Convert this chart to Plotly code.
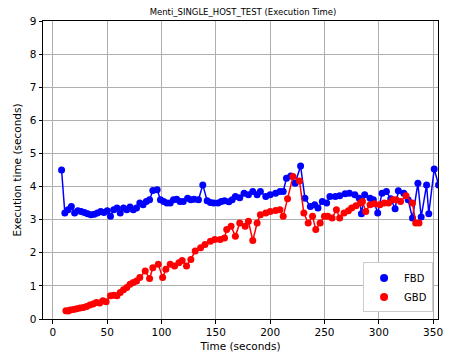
import plotly.graph_objects as go

fbd_t = [8, 11, 14, 17, 20, 23, 26, 29, 32, 35, 38, 41, 44, 47, 50, 53, 56, 59, 62, 65,
         68, 71, 74, 77, 80, 83, 86, 89, 92, 96, 99, 102, 105, 108, 111, 114, 117, 120, 124, 127,
         130, 134, 138, 142, 145, 148, 152, 155, 158, 162, 165, 168, 172, 176, 180, 184, 188, 191, 196, 200,
         205, 209, 212, 215, 219, 223, 228, 232, 237, 241, 244, 248, 252, 255, 260, 264, 269, 273, 278, 282,
         284, 287, 292, 295, 299, 303, 307, 311, 315, 318, 323, 327, 331, 336, 339, 344, 346, 351, 355]
fbd_v = [4.5, 3.2, 3.3, 3.4, 3.2, 3.27, 3.25, 3.22, 3.18, 3.15, 3.16, 3.2, 3.25, 3.22, 3.27, 3.1, 3.3, 3.35, 3.2, 3.35,
         3.3, 3.38, 3.3, 3.35, 3.5, 3.45, 3.55, 3.6, 3.88, 3.9, 3.6, 3.55, 3.5, 3.5, 3.6, 3.62, 3.55, 3.55, 3.65, 3.6,
         3.62, 3.6, 4.05, 3.57, 3.52, 3.5, 3.5, 3.55, 3.57, 3.54, 3.6, 3.7, 3.66, 3.8, 3.75, 3.85, 3.75, 3.85, 3.7, 3.75,
         3.8, 3.85, 3.85, 4.25, 4.32, 4.1, 4.62, 3.65, 3.4, 3.45, 3.35, 3.55, 3.5, 3.7, 3.7, 3.72, 3.78, 3.8, 3.75, 3.65,
         3.18, 3.75, 3.65, 3.6, 3.2, 3.8, 3.85, 3.63, 3.33, 3.87, 3.8, 3.6, 3.05, 4.1, 3.08, 4.05, 3.18, 4.53, 4.05]

gbd_t = [12, 14, 16, 19, 22, 25, 28, 31, 34, 37, 40, 43, 46, 49, 53, 56, 59, 62, 65, 68,
         71, 74, 77, 80, 85, 89, 92, 97, 101, 104, 108, 112, 116, 119, 123, 127, 131, 136, 140, 145,
         149, 154, 158, 160, 164, 168, 172, 177, 180, 184, 188, 191, 196, 200, 205, 209, 212, 216, 221, 227,
         231, 235, 239, 242, 246, 250, 253, 257, 261, 264, 268, 272, 275, 279, 283, 285, 288, 292, 296, 301,
         305, 309, 313, 316, 320, 325, 331, 334, 337]
gbd_v = [0.25, 0.24, 0.27, 0.29, 0.31, 0.33, 0.35, 0.38, 0.42, 0.45, 0.5, 0.48, 0.55, 0.52, 0.7, 0.72, 0.7, 0.8, 0.88, 0.95,
         1.05, 1.1, 1.15, 1.25, 1.45, 1.22, 1.55, 1.65, 1.25, 1.5, 1.65, 1.6, 1.7, 1.77, 1.6, 1.8, 2.05, 2.15, 2.25, 2.35,
         2.4, 2.4, 2.45, 2.7, 2.8, 2.5, 2.9, 2.8, 2.95, 2.37, 2.9, 3.15, 3.2, 3.25, 3.28, 3.3, 3.1, 3.63, 4.3, 4.17,
         3.2, 2.9, 3.1, 2.7, 2.9, 3.1, 3.1, 3.05, 3.3, 3.05, 3.2, 3.27, 3.35, 3.42, 3.5, 3.55, 3.25, 3.45, 3.48, 3.45,
         3.5, 3.5, 3.6, 3.6, 3.55, 3.72, 3.5, 2.9, 2.9]

x_ticks = [0, 50, 100, 150, 200, 250, 300, 350]
y_ticks = [0, 1, 2, 3, 4, 5, 6, 7, 8, 9]

FONT = "DejaVu Sans"

fig = go.Figure()
fig.add_trace(go.Scatter(x=fbd_t, y=fbd_v, mode="lines+markers", name="FBD",
                         line=dict(color="blue", width=1.5),
                         marker=dict(color="blue", size=7), showlegend=False))
fig.add_trace(go.Scatter(x=gbd_t, y=gbd_v, mode="lines+markers", name="GBD",
                         line=dict(color="red", width=1.5),
                         marker=dict(color="red", size=7), showlegend=False))
fig.add_trace(go.Scatter(x=[None], y=[None], mode="markers", name="FBD",
                         marker=dict(color="blue", size=8)))
fig.add_trace(go.Scatter(x=[None], y=[None], mode="markers", name="GBD",
                         marker=dict(color="red", size=8)))

axis_common = dict(showgrid=True, gridcolor="#b0b0b0", gridwidth=1,
                   showline=True, linecolor="black", linewidth=1, mirror=True,
                   ticks="outside", ticklen=3.5, tickcolor="black", tickwidth=1,
                   zeroline=False, tickfont=dict(family=FONT, size=10.5, color="black"))

fig.update_layout(
    width=450, height=358,
    margin=dict(l=43, r=7, t=21, b=39),
    paper_bgcolor="white", plot_bgcolor="white",
    font=dict(family=FONT, color="black"),
    title=dict(text="Menti_SINGLE_HOST_TEST (Execution Time)",
               font=dict(family=FONT, size=8.5, color="black"),
               x=0.54, xanchor="center", y=0.966, yanchor="middle"),
    xaxis=dict(range=[-9.1, 354.5], tickvals=x_ticks,
               title=dict(text="Time (seconds)", font=dict(family=FONT, size=10.5), standoff=5),
               **axis_common),
    yaxis=dict(range=[0, 9], tickvals=y_ticks,
               title=dict(text="Execution time (seconds)", font=dict(family=FONT, size=10.5), standoff=6),
               **axis_common),
    legend=dict(x=0.9875, y=0.022, xanchor="right", yanchor="bottom",
                bgcolor="white", bordercolor="#cccccc", borderwidth=1,
                font=dict(family=FONT, size=10), itemwidth=30,
                tracegroupgap=0),
)

fig.write_html("out.html")
